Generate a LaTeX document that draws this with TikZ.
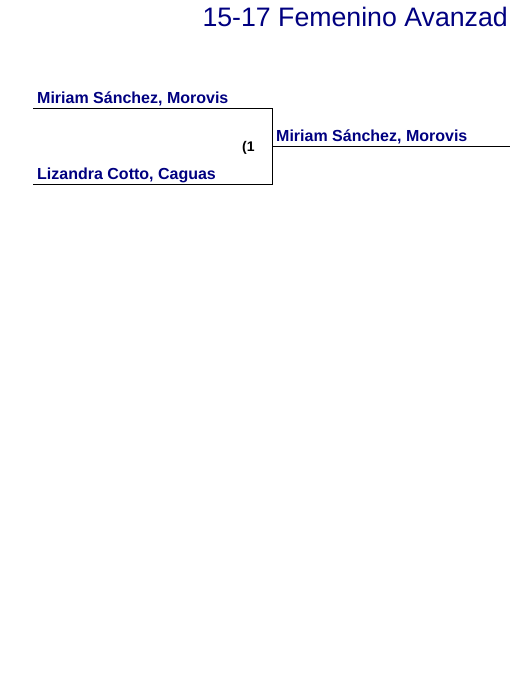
\documentclass[tikz,border=0pt]{standalone}
\usepackage{fontspec}
\setmainfont{Liberation Sans}
\usetikzlibrary{positioning,calc}
\definecolor{Navy}{HTML}{000080}
\tikzset{
  heading/.style={text=Navy,inner sep=0pt,anchor=base east,font=\fontsize{26.7}{30}\selectfont},
  player/.style={text=Navy,inner sep=0pt,anchor=base west,font=\fontsize{16}{18}\selectfont\bfseries},
  seedno/.style={text=black,inner sep=0pt,anchor=base west,font=\fontsize{14}{16}\selectfont\bfseries},
  bracket/.style={draw=black,line width=.9pt},
}
\begin{document}
\begin{tikzpicture}[x=1pt,y=-1pt]
        \useasboundingbox (0,0) rectangle (510,674);
        \node[heading] (head) at (508,27) {15-17 Femenino Avanzad};
        % first round
        \coordinate (top) at (33,108);
        \coordinate (bot) at (33,184);
        \coordinate (topend) at (272,108);
        \coordinate (botend) at (272,184);
        \node[player] (p1) at (37,103.5) {Miriam Sánchez, Morovis};
        \node[player] (p2) at (37,179.5) {Lizandra Cotto, Caguas};
        \node[seedno] (seed) at (242,151.5) {(1};
        \draw[bracket] (top) -- (topend) -- (botend) -- (bot);
        % winner
        \coordinate (win) at (272,146);
        \coordinate (winend) at (510,146);
        \node[player] (w1) at (276,141.5) {Miriam Sánchez, Morovis};
        \draw[bracket] (win) -- (winend);
      \end{tikzpicture}
\end{document}
